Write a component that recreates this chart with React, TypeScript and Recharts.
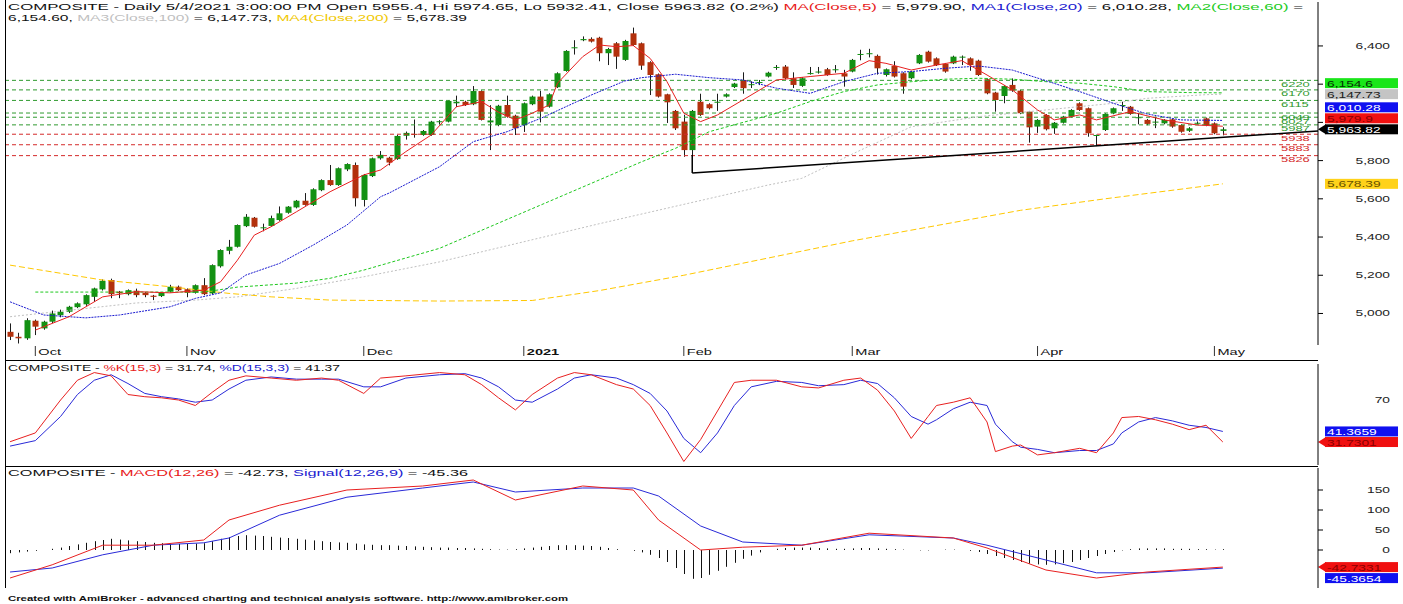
import React from 'react';
import { ComposedChart, Bar, Line, XAxis, YAxis, ReferenceLine } from 'recharts';

// ---------- DATA ----------
const opens = [4904,4878,4870,4962,4922,4957,4991,5009,5033,5048,5087,5126,5175,5114,5101,5119,5108,5093,5091,5114,5140,5127,5108,5148,5105,5247,5328,5349,5457,5501,5448,5458,5489,5527,5555,5590,5568,5645,5698,5672,5754,5777,5594,5719,5812,5815,5808,5930,5940,5934,5934,6002,6004,6100,6108,6095,6164,6000,5986,6091,6035,5986,6095,6135,6082,6184,6269,6388,6430,6437,6443,6362,6414,6327,6466,6414,6315,6252,6147,6060,6004,5855,6108,6095,6105,6135,6185,6222,6198,6208,6240,6285,6292,6231,6191,6255,6262,6278,6276,6257,6266,6356,6360,6348,6248,6295,6257,6231,6309,6370,6335,6306,6309,6342,6335,6323,6226,6156,6138,6196,6166,6056,5978,6039,5969,5998,6030,6100,6074,5932,5960,6048,6089,6082,6025,6013,6002,5995,6016,5986,5956,5995,6021,5995,5955.4];
const highs = [4948,4899,4975,4968,4962,5015,5020,5040,5058,5100,5135,5178,5182,5118,5126,5130,5112,5097,5112,5150,5146,5131,5152,5185,5257,5336,5385,5466,5520,5505,5470,5512,5560,5562,5594,5630,5655,5702,5777,5764,5786,5790,5730,5816,5850,5820,5935,5952,6015,5960,6008,6012,6116,6140,6113,6190,6168,6090,6092,6140,6040,6104,6140,6165,6152,6262,6378,6430,6450,6445,6448,6390,6420,6432,6496,6418,6320,6256,6150,6065,6040,6065,6150,6100,6150,6152,6207,6262,6215,6222,6265,6300,6300,6262,6236,6290,6290,6285,6300,6275,6332,6380,6385,6355,6282,6320,6262,6270,6357,6375,6340,6311,6349,6350,6340,6328,6230,6160,6195,6230,6170,6060,6017,6043,6002,6034,6069,6105,6078,5936,6048,6078,6108,6086,6050,6018,6030,6017,6020,5990,5975,6005,6025,6000,5974.65];
const lows = [4861,4843,4862,4887,4915,4950,4980,5002,5028,5040,5060,5120,5080,5080,5095,5085,5085,5070,5086,5110,5118,5085,5104,5096,5100,5240,5310,5345,5452,5450,5430,5454,5485,5522,5550,5564,5563,5640,5668,5668,5745,5560,5560,5714,5805,5775,5804,5910,5920,5930,5930,5990,6000,6080,6086,6090,6010,5855,5980,6025,5934,5950,6090,6000,6077,6180,6265,6355,6425,6418,6320,6300,6280,6322,6400,6275,6143,6130,5997,5960,5820,5820,6034,6068,6060,6130,6180,6150,6180,6195,6235,6275,6225,6180,6186,6250,6255,6244,6260,6187,6262,6325,6340,6250,6240,6235,6150,6226,6305,6313,6295,6260,6305,6300,6270,6243,6147,6056,6100,6160,6043,5894,5945,5958,5940,5994,6025,6060,5925,5876,5955,6043,6060,6040,5990,5985,5970,5990,5972,5946,5950,5990,5980,5938,5932.41];
const closes = [4878,4870,4965,4931,4957,5000,5009,5035,5053,5096,5131,5171,5101,5106,5122,5096,5096,5087,5108,5140,5122,5108,5148,5101,5253,5332,5349,5463,5506,5454,5451,5499,5524,5559,5590,5568,5650,5698,5672,5760,5782,5603,5725,5812,5830,5790,5929,5945,5938,5955,6004,6006,6112,6108,6091,6164,6013,6010,6087,6030,5969,6100,6135,6056,6147,6257,6374,6393,6436,6423,6362,6384,6344,6426,6405,6297,6248,6135,6105,5969,5855,6060,6039,6074,6108,6147,6203,6179,6200,6211,6260,6290,6231,6196,6231,6258,6266,6248,6278,6240,6327,6358,6362,6283,6278,6240,6187,6266,6353,6318,6300,6266,6344,6344,6300,6248,6152,6117,6190,6166,6048,5974,6013,5964,5998,6030,6065,6065,5943,5934,6044,6074,6091,6044,6027,5992,6004,6013,5978,5951,5969,5998,5986,5943,5963.82];

// moving averages: [bar index, value]
const ma5 = [[3,4913],[7,4983],[11,5087],[15,5114],[19,5108],[23,5122],[25,5166],[27,5279],[29,5410],[31,5454],[34,5532],[38,5637],[42,5725],[44,5751],[47,5847],[50,5934],[53,6082],[56,6108],[58,6053],[60,6013],[62,6048],[64,6091],[65,6205],[68,6344],[70,6405],[72,6396],[74,6402],[76,6335],[78,6213],[80,6048],[82,6004],[84,6039],[87,6117],[91,6222],[95,6240],[99,6257],[102,6323],[104,6309],[107,6274],[110,6300],[113,6323],[116,6248],[119,6170],[122,6065],[124,6013],[127,6039],[129,6013],[133,6056],[137,6013],[141,5986],[144,5979.9]];
const ma20 = [[0,5061],[4,4992],[9,4977],[13,4992],[19,5035],[22,5079],[25,5108],[28,5201],[32,5262],[36,5358],[40,5463],[44,5611],[45,5630],[51,5768],[55,5899],[59,5951],[63,6021],[69,6143],[73,6217],[75,6234],[79,6252],[83,6234],[87,6222],[91,6179],[95,6152],[99,6213],[103,6257],[107,6266],[111,6283],[115,6295],[119,6274],[123,6218],[127,6161],[131,6100],[135,6044],[139,6013],[144,6010.28]];
const ma60 = [[3,5112],[23,5112],[27,5138],[34,5159],[38,5184],[42,5227],[51,5341],[66,5624],[75,5794],[79,5864],[83,5951],[91,6048],[95,6109],[99,6161],[103,6196],[107,6213],[111,6226],[115,6231],[119,6226],[123,6213],[127,6205],[131,6187],[135,6161],[140,6156],[144,6154.6]];
const ma100 = [[0,4983],[15,5055],[22,5070],[27,5087],[34,5131],[42,5192],[51,5270],[70,5470],[90,5672],[94,5707],[101,5855],[107,5977],[115,6030],[123,6065],[131,6100],[135,6126],[142,6145],[144,6147.73]];
const ma200 = [[0,5253],[11,5175],[19,5140],[26,5105],[31,5087],[38,5070],[51,5065],[62,5068],[70,5120],[80,5200],[90,5290],[100,5380],[110,5460],[120,5540],[130,5600],[144,5678.39]];

const supportLevels = [6220, 6170, 6115, 6049, 6027, 5987];
const resistLevels = [5938, 5883, 5826];
const trendLine = [[81, 5735], [155.3, 5955]];
const trendStem = [[81, 5829], [81, 5735]];

const monthTicks = [3, 21, 42, 61, 80, 100, 122, 143];
const monthLabels = ['Oct', 'Nov', 'Dec', '2021', 'Feb', 'Mar', 'Apr', 'May'];
const priceTicks = [5000, 5200, 5400, 5600, 5800, 6000, 6200, 6400];
const hiddenPriceTicks = [6000, 6200];

const stochK = [[0,32],[3,40],[6,70],[8,88],[10,95],[12,92],[14,75],[16,73],[18,72],[20,70],[22,65],[24,77],[26,88],[28,92],[31,90],[34,88],[37,90],[39,88],[42,76],[44,90],[47,92],[51,95],[54,93],[56,84],[58,72],[60,61],[62,75],[65,90],[67,95],[69,93],[72,84],[74,80],[76,65],[78,40],[80,14],[82,34],[84,60],[86,86],[88,88],[91,88],[94,82],[96,81],[99,88],[101,90],[103,79],[105,60],[107,35],[109,55],[110,65],[112,68],[114,72],[116,50],[117,23],[119,28],[120,29],[122,20],[124,22],[127,26],[129,22],[131,40],[132,54],[134,55],[136,52],[138,48],[140,43],[142,47],[144,31.74]];
const stochD = [[0,28],[3,33],[6,55],[8,75],[10,88],[12,93],[14,85],[16,76],[18,73],[20,71],[22,68],[24,70],[26,80],[28,88],[31,91],[34,89],[37,89],[39,89],[42,82],[44,82],[47,90],[51,93],[54,94],[56,90],[58,82],[60,70],[62,68],[65,80],[67,90],[69,93],[72,90],[74,84],[76,76],[78,60],[80,35],[82,22],[84,40],[86,65],[88,82],[91,87],[94,86],[96,83],[99,84],[101,88],[103,85],[105,72],[107,55],[109,48],[110,52],[112,62],[114,68],[116,65],[117,48],[119,32],[120,27],[122,25],[124,22],[127,24],[129,24],[131,30],[132,40],[134,50],[136,54],[138,51],[140,47],[142,45],[144,41.37]];
const stochTicks = [70];

const macdLine = [[0,-70],[5,-37],[11,12],[17,12],[23,25],[26,75],[32,112],[40,150],[49,160],[55,175],[60,125],[68,160],[74,150],[77,75],[82,0],[87,7],[94,12],[102,42],[112,30],[116,5],[123,-50],[129,-70],[135,-55],[144,-42.73]];
const signalLine = [[0,-55],[5,-45],[11,-12],[17,12],[23,18],[26,30],[32,87],[40,132],[49,155],[55,170],[60,145],[68,155],[74,155],[77,135],[82,60],[87,20],[94,12],[102,38],[112,30],[116,12],[123,-25],[129,-57],[135,-57],[144,-45.36]];
const macdHist = [-8,-6,-4,-2,0,3,6,10,14,18,22,25,28,26,24,22,20,18,17,16,15,15,16,17,22,28,32,35,37,36,35,33,31,30,28,26,24,22,20,19,18,16,14,13,12,12,11,10,9,8,7,6,6,5,5,4,3,2,1,1,2,4,6,8,10,12,12,12,11,10,8,5,2,0,-2,-6,-12,-20,-30,-45,-60,-72,-70,-62,-52,-42,-32,-22,-14,-6,0,3,5,6,6,6,5,4,3,3,4,5,5,4,3,2,1,0,-1,-1,0,1,1,0,-2,-5,-10,-15,-20,-25,-30,-34,-36,-37,-36,-33,-30,-25,-20,-15,-10,-5,-1,2,4,4,4,4,3,3,3,2,2,1,2];
const macdTicks = [0, 50, 100, 150];

// ---------- LAYOUT / STYLE ----------
const W = 1403;
const PLOT_L = 5;
const AXIS_W = 85;
const X_DOMAIN: [number, number] = [-0.6, 155.3];
const PRICE_DOMAIN: [number, number] = [4835, 6630];
const STOCH_DOMAIN: [number, number] = [10.8, 102.8];
const MACD_DOMAIN: [number, number] = [-95, 205];
const SX = 1.62;
const FONT = "'Liberation Sans', Arial, sans-serif";
const LABEL_RIGHT = 1390;
const UP = '#139113';
const DOWN = '#b3310d';

const T = ({ x, y, children, anchor = 'start', size = 9.5, fill = '#111', weight = 'normal' }: any) => (
  <text transform={`translate(${x},${y}) scale(${SX},1)`} textAnchor={anchor} fontSize={size} fill={fill} fontFamily={FONT} fontWeight={weight}>{children}</text>
);

// merge everything into one table keyed by bar index
const rows: any[] = closes.map((c, i) => ({ i, o: opens[i], h: highs[i], l: lows[i], c, range: [lows[i], highs[i]], hist: macdHist[i] }));
const put = (key: string, arr: number[][]) => arr.forEach(([i, v]) => { rows[i][key] = v; });
put('ma5', ma5); put('ma20', ma20); put('ma60', ma60); put('ma100', ma100); put('ma200', ma200);
put('k', stochK); put('d', stochD); put('macd', macdLine); put('sig', signalLine);

const Candle = (p: any) => {
  const { x, y, width, height, payload } = p;
  if (x == null || payload == null) return null;
  const top = Math.min(y, y + height);
  const hh = Math.abs(height);
  const { o, h, l, c } = payload;
  const pv = (v: number) => (h === l ? top : top + ((h - v) / (h - l)) * hh);
  const yo = pv(o), yc = pv(c);
  const bt = Math.min(yo, yc);
  const bh = Math.max(1, Math.abs(yo - yc));
  const cx = Math.round(x + width / 2) + 0.5;
  const col = c >= o ? UP : DOWN;
  return (
    <g>
      <line x1={cx} x2={cx} y1={top} y2={top + hh} stroke="#1c1c1c" strokeWidth={1} />
      <rect x={cx - 3} y={bt} width={6} height={bh} fill={col} />
    </g>
  );
};

const HistBar = (p: any) => {
  const { x, y, width, height } = p;
  if (x == null) return null;
  const cx = Math.round(x + width / 2) + 0.5;
  return <line x1={cx} x2={cx} y1={y} y2={y + height} stroke="#111" strokeWidth={1} />;
};

// value-axis labels: stack boxes so they do not overlap (as the original program does)
function stackLabels(items: any[], anchorValue: number, gap: number) {
  const sorted = [...items].sort((a, b) => a.value - b.value);
  const ai = sorted.findIndex((it) => it.value === anchorValue);
  const out = sorted.map((it) => ({ ...it, shown: it.value }));
  for (let j = ai + 1; j < out.length; j++) out[j].shown = Math.max(out[j].value, out[j - 1].shown + gap);
  for (let j = ai - 1; j >= 0; j--) out[j].shown = Math.min(out[j].value, out[j + 1].shown - gap);
  return out;
}

const priceBoxes = stackLabels([
  { value: 6154.6, text: '6,154.6', bg: '#19e619', fg: '#063006' },
  { value: 6147.73, text: '6,147.73', bg: '#c4c4c4', fg: '#202020' },
  { value: 6010.28, text: '6,010.28', bg: '#1010f0', fg: '#ffffff' },
  { value: 5979.9, text: '5,979.9', bg: '#f01010', fg: '#8a0000' },
  { value: 5963.82, text: '5,963.82', bg: '#000000', fg: '#ffffff', arrow: true },
  { value: 5678.39, text: '5,678.39', bg: '#ffd21a', fg: '#6a5200' },
], 5963.82, (11 / 343) * (PRICE_DOMAIN[1] - PRICE_DOMAIN[0]));

const stochBoxes = stackLabels([
  { value: 41.3659, text: '41.3659', bg: '#1010f0', fg: '#ffffff' },
  { value: 31.7301, text: '31.7301', bg: '#f01010', fg: '#8a0000', arrow: true },
], 31.7301, (10.5 / 101) * (STOCH_DOMAIN[1] - STOCH_DOMAIN[0]));

const macdBoxes = stackLabels([
  { value: -42.7331, text: '-42.7331', bg: '#f01010', fg: '#8a0000', arrow: true },
  { value: -45.3654, text: '-45.3654', bg: '#1010f0', fg: '#ffffff' },
], -42.7331, (11 / 120) * (MACD_DOMAIN[1] - MACD_DOMAIN[0]));

const boxLines = (boxes: any[]) =>
  boxes.map((b) => (
    <ReferenceLine
      key={b.text}
      y={b.shown}
      stroke="none"
      ifOverflow="visible"
      label={(lp: any) => {
        const vb = lp.viewBox || {};
        const xr = vb.x + vb.width;
        const yy = vb.y;
        return (
          <g>
            {b.arrow && <polygon points={`${xr},${yy} ${xr + 8},${yy - 5} ${xr + 8},${yy + 5}`} fill={b.bg} />}
            <rect x={xr + 7} y={yy - 5} width={73} height={10} fill={b.bg} />
            <T x={xr + 9} y={yy + 3.5} size={8.5} fill={b.fg}>{b.text}</T>
          </g>
        );
      }}
    />
  ));

const levelLines = (levels: number[], color: string) =>
  levels.map((lv) => (
    <ReferenceLine
      key={lv}
      y={lv}
      stroke={color}
      strokeDasharray="4 3"
      strokeWidth={1}
      label={(lp: any) => {
        const vb = lp.viewBox || {};
        return <T x={vb.x + vb.width - 37} y={vb.y + 6.5} size={8} fill={color}>{String(lv)}</T>;
      }}
    />
  ));

const AxisTick = (p: any) => {
  const { y, payload, hidden, fmt } = p;
  if (hidden && hidden.includes(payload.value)) return null;
  return <T x={LABEL_RIGHT} y={y + 3} anchor="end" size={8.5} fill="#222">{fmt ? fmt(payload.value) : String(payload.value)}</T>;
};

const MonthTick = (p: any) => {
  const { x, payload } = p;
  const idx = monthTicks.indexOf(payload.value);
  const lbl = monthLabels[idx];
  return (
    <g>
      <line x1={x} x2={x} y1={346} y2={356} stroke="#333" />
      <T x={x + 3} y={355} size={9} weight={lbl === '2021' ? 'bold' : 'normal'} fill="#111">{lbl}</T>
    </g>
  );
};

const fmtPrice = (v: number) => v.toLocaleString('en-US');

export default function App() {
  return (
    <div style={{ position: 'absolute', left: 0, top: 0, width: W, height: 604, background: '#fff', overflow: 'hidden' }}>
      {/* price panel */}
      <div style={{ position: 'absolute', left: 0, top: 0 }}>
        <ComposedChart width={W} height={360} data={rows} margin={{ top: 2, right: 0, bottom: 0, left: PLOT_L }}>
          <XAxis dataKey="i" type="number" domain={X_DOMAIN} allowDataOverflow ticks={monthTicks} interval={0} axisLine={false} tickLine={false} height={15} tick={<MonthTick />} />
          <YAxis orientation="right" domain={PRICE_DOMAIN} allowDataOverflow ticks={priceTicks} width={AXIS_W} interval={0} axisLine={{ stroke: '#000' }} tickLine={{ stroke: '#000' }} tickSize={5} tick={<AxisTick hidden={hiddenPriceTicks} fmt={fmtPrice} />} />
          {levelLines(supportLevels, '#2f9a2f')}
          {levelLines(resistLevels, '#d42a2a')}
          <Line dataKey="ma200" stroke="#ffc800" strokeWidth={1} strokeDasharray="6 3" dot={false} connectNulls isAnimationActive={false} />
          <Line dataKey="ma100" stroke="#c0c0c0" strokeWidth={1} strokeDasharray="2 2" dot={false} connectNulls isAnimationActive={false} />
          <Line dataKey="ma60" stroke="#1ec81e" strokeWidth={1} strokeDasharray="3 2" dot={false} connectNulls isAnimationActive={false} />
          <Line dataKey="ma20" stroke="#1a1ad0" strokeWidth={1} strokeDasharray="2 1" dot={false} connectNulls isAnimationActive={false} />
          <Line dataKey="ma5" stroke="#e82020" strokeWidth={1} dot={false} connectNulls isAnimationActive={false} />
          <ReferenceLine segment={trendLine.map(([x, y]) => ({ x, y }))} stroke="#000" strokeWidth={1.5} ifOverflow="visible" />
          <ReferenceLine segment={trendStem.map(([x, y]) => ({ x, y }))} stroke="#000" strokeWidth={1.5} ifOverflow="visible" />
          <Bar dataKey="range" barSize={6} shape={<Candle />} isAnimationActive={false} />
          {boxLines(priceBoxes)}
        </ComposedChart>
      </div>

      {/* stochastic panel */}
      <div style={{ position: 'absolute', left: 0, top: 360 }}>
        <ComposedChart width={W} height={107} data={rows} margin={{ top: 4, right: 0, bottom: 2, left: PLOT_L }}>
          <XAxis dataKey="i" type="number" domain={X_DOMAIN} allowDataOverflow hide />
          <YAxis orientation="right" domain={STOCH_DOMAIN} allowDataOverflow ticks={stochTicks} width={AXIS_W} interval={0} axisLine={{ stroke: '#000' }} tickLine={false} tick={<AxisTick />} />
          <Line dataKey="d" stroke="#2a2ad8" strokeWidth={1} dot={false} connectNulls isAnimationActive={false} />
          <Line dataKey="k" stroke="#e82020" strokeWidth={1} dot={false} connectNulls isAnimationActive={false} />
          {boxLines(stochBoxes)}
        </ComposedChart>
      </div>

      {/* MACD panel */}
      <div style={{ position: 'absolute', left: 0, top: 467 }}>
        <ComposedChart width={W} height={123} data={rows} margin={{ top: 1, right: 0, bottom: 2, left: PLOT_L }}>
          <XAxis dataKey="i" type="number" domain={X_DOMAIN} allowDataOverflow hide />
          <YAxis orientation="right" domain={MACD_DOMAIN} allowDataOverflow ticks={macdTicks} width={AXIS_W} interval={0} axisLine={{ stroke: '#000' }} tickLine={{ stroke: '#000' }} tickSize={5} tick={<AxisTick />} />
          <Bar dataKey="hist" barSize={3} shape={<HistBar />} isAnimationActive={false} />
          <Line dataKey="sig" stroke="#2a2ad8" strokeWidth={1} dot={false} connectNulls isAnimationActive={false} />
          <Line dataKey="macd" stroke="#e82020" strokeWidth={1} dot={false} connectNulls isAnimationActive={false} />
          {boxLines(macdBoxes)}
        </ComposedChart>
      </div>

      {/* frame lines */}
      <div style={{ position: 'absolute', left: PLOT_L, top: 0, width: 1, height: 588, background: '#000' }} />
      <div style={{ position: 'absolute', left: PLOT_L, top: 360, width: W - AXIS_W - PLOT_L, height: 1, background: '#000' }} />
      <div style={{ position: 'absolute', left: PLOT_L, top: 466, width: W - AXIS_W - PLOT_L, height: 1, background: '#000' }} />

      {/* titles */}
      <svg width={W} height={604} style={{ position: 'absolute', left: 0, top: 0, pointerEvents: 'none' }}>
        <text x={8} y={10} fontSize={9.5} fontFamily={FONT} fill="#111" textLength={1295} lengthAdjust="spacingAndGlyphs">
          <tspan>COMPOSITE - Daily 5/4/2021 3:00:00 PM Open 5955.4, Hi 5974.65, Lo 5932.41, Close 5963.82 (0.2%) </tspan>
          <tspan fill="#e82020">MA(Close,5)</tspan><tspan> = 5,979.90, </tspan>
          <tspan fill="#2020d0">MA1(Close,20)</tspan><tspan> = 6,010.28, </tspan>
          <tspan fill="#22cc22">MA2(Close,60)</tspan><tspan> =</tspan>
        </text>
        <text x={8} y={21} fontSize={9.5} fontFamily={FONT} fill="#111" textLength={459} lengthAdjust="spacingAndGlyphs">
          <tspan>6,154.60, </tspan>
          <tspan fill="#c0c0c0">MA3(Close,100)</tspan><tspan> = 6,147.73, </tspan>
          <tspan fill="#f0c800">MA4(Close,200)</tspan><tspan> = 5,678.39</tspan>
        </text>
        <text x={8} y={371} fontSize={9.5} fontFamily={FONT} fill="#111" textLength={332} lengthAdjust="spacingAndGlyphs">
          <tspan>COMPOSITE - </tspan><tspan fill="#e82020">%K(15,3)</tspan><tspan> = 31.74, </tspan>
          <tspan fill="#2020d0">%D(15,3,3)</tspan><tspan> = 41.37</tspan>
        </text>
        <text x={8} y={476} fontSize={9.5} fontFamily={FONT} fill="#111" textLength={460} lengthAdjust="spacingAndGlyphs">
          <tspan>COMPOSITE - </tspan><tspan fill="#e82020">MACD(12,26)</tspan><tspan> = -42.73, </tspan>
          <tspan fill="#2020d0">Signal(12,26,9)</tspan><tspan> = -45.36</tspan>
        </text>
        <text x={8} y={601} fontSize={7.5} fontWeight="bold" fontFamily={FONT} fill="#111" textLength={560} lengthAdjust="spacingAndGlyphs">
          Created with AmiBroker - advanced charting and technical analysis software. http://www.amibroker.com
        </text>
      </svg>
    </div>
  );
}
